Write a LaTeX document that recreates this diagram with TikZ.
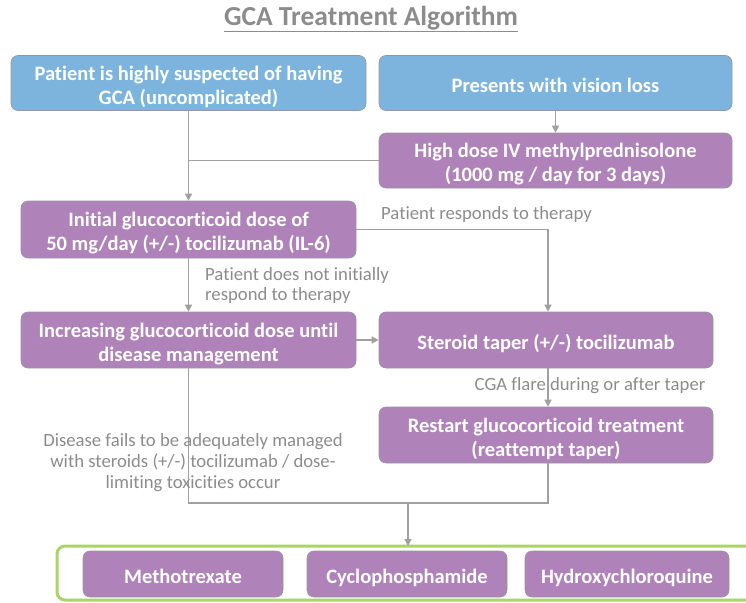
\documentclass[tikz,border=0pt]{standalone}
\usepackage{fontspec}
\setmainfont[Ligatures={NoCommon}]{Carlito}
\usetikzlibrary{arrows.meta}
\definecolor{boxblue}{RGB}{125,180,221}
\definecolor{boxpurple}{RGB}{176,130,186}
\definecolor{boxedge}{RGB}{150,150,160}
\definecolor{linkgray}{RGB}{160,160,160}
\definecolor{labelgray}{RGB}{140,140,140}
\definecolor{framegreen}{RGB}{170,212,104}
% struts that fix the first-line height and last-line depth of box text
\newcommand\firstline{\rule{0pt}{23.5pt}}
\newcommand\lastline{\rule[-5.5pt]{0pt}{5.5pt}}
\begin{document}
\begin{tikzpicture}[x=1pt,y=-1pt,
  box/.style={draw=boxedge, line width=0.6pt, rounded corners=7pt, align=center,
    text=white, inner sep=0pt, font=\bfseries\fontsize{20.5}{24}\selectfont},
  bluebox/.style={box, fill=boxblue},
  purplebox/.style={box, fill=boxpurple},
  link/.style={draw=linkgray, line width=1.3pt},
  arr/.style={link, -{Triangle[length=7pt,width=7pt]}},
  note/.style={text=labelgray, inner sep=0pt, font=\fontsize{18.7}{20.5}\selectfont}]
\useasboundingbox (0,0) rectangle (746,602);

% title
\node[text=labelgray, font=\fontsize{27.5}{30}\selectfont\bfseries] (title) at (371,19)
  {\underline{GCA Treatment Algorithm}};

% entry points
\node[bluebox, minimum width=355pt, minimum height=55pt] (suspect) at (188.5,83)
  {\firstline Patient is highly suspected of having\\GCA (uncomplicated)\lastline};
\node[bluebox, minimum width=353pt, minimum height=55pt] (vision) at (555.5,83)
  {\firstline Presents with vision loss\lastline};
\node[purplebox, minimum width=353pt, minimum height=55pt] (ivmp) at (555.5,160.5)
  {\firstline High dose IV methylprednisolone\\(1000 mg / day for 3 days)\lastline};

% steroid course
\node[purplebox, minimum width=335pt, minimum height=57pt] (initial) at (188.5,229.5)
  {\firstline Initial glucocorticoid dose of\\50 mg/day (+/-) tocilizumab (IL-6)\lastline};
\node[purplebox, minimum width=335pt, minimum height=56pt] (increase) at (188.5,340)
  {\firstline Increasing glucocorticoid dose until\\disease management\lastline};
\node[purplebox, minimum width=334pt, minimum height=56pt] (taper) at (546,340)
  {\firstline Steroid taper (+/-) tocilizumab\lastline};
\node[purplebox, minimum width=334pt, minimum height=56pt] (restart) at (546,435)
  {\firstline Restart glucocorticoid treatment\\(reattempt taper)\lastline};

% second-line agents
\draw[framegreen, line width=3pt, rounded corners=8pt] (780,546) -- (57,546) -- (57,600) -- (780,600);
\coordinate (frametop) at (408,546);
\node[purplebox, minimum width=200pt, minimum height=46pt] (mtx) at (183,574)
  {\firstline Methotrexate\lastline};
\node[purplebox, minimum width=200pt, minimum height=46pt] (cyc) at (407,574)
  {\firstline Cyclophosphamide\lastline};
\node[purplebox, minimum width=204pt, minimum height=46pt] (hcq) at (627,574)
  {\firstline Hydroxychloroquine\lastline};

% connectors
\draw[arr] (suspect) -- (initial);
\draw[link] (ivmp.west) -- (ivmp.west -| suspect.south);
\draw[arr] (vision) -- (ivmp);
\draw[arr] (initial.east) -| ([xshift=2pt]taper.north);
\draw[arr] (initial) -- (increase);
\draw[arr] (increase) -- (taper);
\draw[arr] ([xshift=2pt]taper.south) -- ([xshift=2pt]restart.north);
\coordinate (join) at (408,503);
\draw[link] (increase.south) |- (join) -| ([xshift=2pt]restart.south);
\draw[arr] (join) -- (frametop);

% branch labels
\node[note, anchor=west] (respond) at (381,215) {Patient responds to therapy};
\node[note, anchor=north west, align=left] (noresp) at (205,267)
  {Patient does not initially\\respond to therapy};
\node[note] (flare) at (590,386) {CGA flare during or after taper};
\node[note, align=center, font=\fontsize{18.7}{21}\selectfont] (fails) at (193,463)
  {Disease fails to be adequately managed\\with steroids (+/-) tocilizumab / dose-\\limiting toxicities occur};
\end{tikzpicture}
\end{document}
